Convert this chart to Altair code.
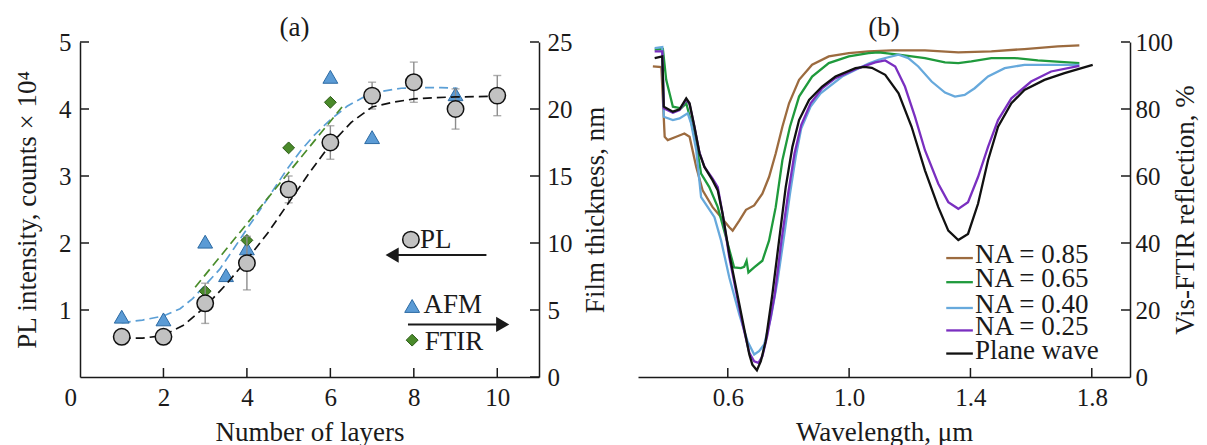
import altair as alt
import pandas as pd

FONT = "Liberation Serif"
INK = "#1a1a1a"
TICK_FS = 25
TEXT_FS = 27

# ---------------- panel (a) data ----------------
pl_layers = [1, 2, 3, 4, 5, 6, 7, 8, 9, 10]
pl_counts = [0.6, 0.6, 1.1, 1.7, 2.8, 3.5, 4.2, 4.4, 4.0, 4.2]
err_layers = [3, 4, 5, 6, 7, 8, 9, 10]
err_low = [0.8, 1.3, 2.6, 3.25, 4.0, 4.1, 3.7, 3.9]
err_high = [1.4, 2.1, 3.0, 3.75, 4.4, 4.7, 4.3, 4.5]

afm_layers = [1, 2, 3, 3.5, 4, 6, 7, 9]
afm_nm = [4.5, 4.3, 10.1, 7.6, 9.6, 22.4, 17.9, 21.1]
ftir_layers = [3, 4, 5, 6]
ftir_nm = [6.4, 10.2, 17.1, 20.5]

pl_fit_x = [1, 1.5, 2, 2.5, 3, 3.5, 4, 4.5, 5, 5.5, 6, 6.5, 7, 7.5, 8, 8.5, 9, 10]
pl_fit_y = [0.58, 0.58, 0.62, 0.78, 1.05, 1.38, 1.75, 2.15, 2.6, 3.05, 3.47, 3.8,
            4.03, 4.1, 4.15, 4.17, 4.18, 4.19]
afm_fit_x = [1.0, 1.5, 2.0, 2.4, 2.7, 3.0, 3.35, 3.68, 4.0, 4.32, 4.64, 4.96, 5.28,
             5.6, 6.0, 6.4, 6.8, 7.2, 7.7, 8.2, 8.65, 9.05]
afm_fit_nm = [4.05, 4.25, 4.55, 5.1, 5.85, 6.85, 8.05, 9.55, 11.05, 12.5, 14.0, 15.5,
              16.85, 18.0, 19.2, 20.2, 20.9, 21.3, 21.55, 21.6, 21.6, 21.55]
ftir_fit_x = [2.76, 6.28]
ftir_fit_nm = [6.7, 20.15]

# key / arrows drawn inside panel (a), in PL units
key_labels = ["PL", "AFM", "FTIR"]
key_marker_x = [7.93, 7.96, 7.96]
key_marker_y = [2.05, 1.06, 0.55]
key_text_x = [8.15, 8.23, 8.26]
key_text_y = [2.05, 1.07, 0.52]
arrow_y = [1.82, 0.785]
arrow_start = [9.74, 7.86]
arrow_head = [7.48, 10.13]
arrow_shape = ["triangle-left", "triangle-right"]

a_x_labels = [0, 2, 4, 6, 8, 10]
a_x_ticks = [2, 4, 6, 8, 10]
a_left_ticks = [1, 2, 3, 4, 5]
a_right_ticks = [0, 5, 10, 15, 20, 25]

# ---------------- panel (b) data ----------------
brown_x = [0.353, 0.381, 0.392, 0.402, 0.430, 0.457, 0.474, 0.496, 0.517, 0.550,
           0.578, 0.605, 0.616, 0.638, 0.660, 0.687, 0.714, 0.736, 0.758, 0.780,
           0.802, 0.835, 0.878, 0.933, 0.999, 1.064, 1.141, 1.25, 1.36, 1.469,
           1.578, 1.688, 1.759]
brown_y = [92.7, 92.5, 71.7, 70.7, 71.7, 72.7, 71.7, 62.7, 55.7, 50.7,
           47.7, 44.7, 43.7, 46.7, 49.9, 51.2, 54.7, 59.7, 66.7, 74.7,
           81.7, 88.7, 93.2, 95.7, 96.7, 97.2, 97.5, 97.5, 96.9, 97.2,
           97.9, 98.7, 99.0]
green_x = [0.359, 0.386, 0.397, 0.408, 0.419, 0.446, 0.463, 0.479, 0.496, 0.512,
           0.539, 0.567, 0.594, 0.621, 0.643, 0.654, 0.662, 0.668, 0.687, 0.714,
           0.736, 0.758, 0.780, 0.805, 0.835, 0.878, 0.933, 0.999, 1.064, 1.097,
           1.163, 1.25, 1.316, 1.36, 1.403, 1.469, 1.546, 1.622, 1.759]
green_y = [97.7, 97.9, 88.7, 84.7, 80.7, 80.2, 81.7, 76.2, 69.7, 60.7,
           56.7, 50.7, 41.7, 32.7, 32.5, 32.9, 34.7, 31.2, 32.7, 34.7,
           40.7, 50.7, 64.7, 74.7, 83.7, 89.7, 93.7, 95.7, 96.7, 96.9,
           96.2, 95.2, 93.9, 93.7, 94.2, 95.2, 95.2, 94.5, 93.7]
blue_x = [0.359, 0.384, 0.389, 0.419, 0.441, 0.468, 0.479, 0.496, 0.512, 0.534,
          0.556, 0.578, 0.605, 0.638, 0.665, 0.687, 0.703, 0.720, 0.742, 0.764,
          0.785, 0.805, 0.824, 0.842, 0.873, 0.906, 0.977, 1.064, 1.097, 1.163,
          1.195, 1.228, 1.272, 1.316, 1.349, 1.381, 1.414, 1.458, 1.513, 1.578,
          1.688, 1.759]
blue_y = [98.2, 98.5, 77.7, 76.7, 77.2, 78.7, 75.7, 67.7, 53.7, 50.7,
          47.7, 40.7, 29.7, 18.7, 10.7, 6.7, 7.7, 9.7, 17.7, 28.7,
          41.7, 54.7, 65.7, 74.2, 80.7, 84.7, 89.7, 93.6, 94.7, 96.2,
          95.2, 92.7, 88.2, 84.9, 83.7, 84.2, 86.2, 89.7, 92.2, 93.2,
          93.2, 93.2]
purple_x = [0.359, 0.384, 0.389, 0.419, 0.441, 0.463, 0.474, 0.490, 0.506, 0.523,
            0.550, 0.567, 0.583, 0.605, 0.627, 0.649, 0.671, 0.687, 0.701, 0.714,
            0.731, 0.755, 0.777, 0.799, 0.820, 0.842, 0.873, 0.911, 0.955, 1.021,
            1.086, 1.119, 1.152, 1.184, 1.217, 1.25, 1.294, 1.327, 1.36, 1.392,
            1.425, 1.458, 1.491, 1.535, 1.6, 1.666, 1.759]
purple_y = [97.2, 97.2, 80.2, 78.9, 79.7, 82.9, 81.4, 74.7, 67.2, 62.7,
            59.2, 56.7, 48.7, 35.7, 25.7, 15.7, 7.2, 4.7, 4.2, 6.2,
            12.7, 24.7, 40.7, 54.7, 66.7, 75.2, 81.7, 86.2, 89.2, 91.9,
            93.9, 94.5, 92.7, 86.7, 77.7, 67.7, 57.7, 52.2, 50.2, 52.2,
            59.7, 68.7, 76.7, 83.2, 88.2, 91.2, 92.9]
black_x = [0.359, 0.384, 0.389, 0.419, 0.441, 0.463, 0.474, 0.490, 0.507, 0.523,
           0.550, 0.567, 0.583, 0.605, 0.627, 0.649, 0.671, 0.681, 0.696, 0.709,
           0.725, 0.747, 0.769, 0.791, 0.813, 0.835, 0.868, 0.911, 0.955, 1.021,
           1.05, 1.075, 1.119, 1.163, 1.206, 1.25, 1.294, 1.327, 1.36, 1.392,
           1.425, 1.458, 1.491, 1.535, 1.578, 1.644, 1.71, 1.803]
black_y = [95.2, 95.7, 80.7, 79.2, 79.9, 83.2, 81.7, 74.7, 66.7, 62.7,
           58.7, 55.7, 48.7, 36.7, 26.7, 16.7, 6.7, 3.7, 2.0, 4.7,
           10.7, 24.7, 40.7, 56.7, 68.7, 76.7, 82.7, 86.7, 89.7, 92.2,
           92.6, 92.3, 90.2, 84.7, 74.7, 61.7, 50.7, 43.7, 40.9, 42.7,
           51.7, 64.7, 74.7, 81.7, 85.7, 88.7, 90.7, 93.2]

series_names = ["NA = 0.85", "NA = 0.65", "NA = 0.40", "NA = 0.25", "Plane wave"]
series_colors = ["#9c6b3f", "#1f9a3c", "#67a9dc", "#7a2fc0", "#111111"]
series_data = [(brown_x, brown_y), (green_x, green_y), (blue_x, blue_y),
               (purple_x, purple_y), (black_x, black_y)]

# legend of panel (b): one row per series, in data units of the panel
legend_row_y = [35.5, 28.3, 20.6, 13.9, 7.0]
legend_line_x0 = 1.3202
legend_line_x1 = 1.4079
legend_text_x = 1.415

b_x_ticks = [0.6, 1.0, 1.4, 1.8]
b_right_ticks = [20, 40, 60, 80, 100]

# ---------------- geometry ----------------
H = 335
WA = 459
WB = 492
TICK_LEN = 9

# ---------------- tables ----------------
pl_df = pd.DataFrame({"n": pl_layers, "v": pl_counts})
err_df = pd.DataFrame({"n": err_layers, "lo": err_low, "hi": err_high})
cap_df = pd.DataFrame({"n": err_layers + err_layers, "v": err_low + err_high})
plfit_df = pd.DataFrame({"n": pl_fit_x, "v": pl_fit_y})
afm_df = pd.DataFrame({"n": afm_layers, "t": afm_nm})
ftir_df = pd.DataFrame({"n": ftir_layers, "t": ftir_nm})
afmfit_df = pd.DataFrame({"n": afm_fit_x, "t": afm_fit_nm})
ftirfit_df = pd.DataFrame({"n": ftir_fit_x, "t": ftir_fit_nm})
key_df = pd.DataFrame({"label": key_labels, "mx": key_marker_x, "my": key_marker_y,
                       "tx": key_text_x, "ty": key_text_y})
arrow_df = pd.DataFrame({"y": arrow_y, "x0": arrow_start, "x1": arrow_head,
                         "shape": arrow_shape})
axt_df = pd.DataFrame({"n": a_x_ticks})
alt_df = pd.DataFrame({"v": a_left_ticks})
art_df = pd.DataFrame({"t": a_right_ticks})

rows = []
for name, (xs, ys) in zip(series_names, series_data):
    for i, (xv, yv) in enumerate(zip(xs, ys)):
        rows.append({"series": name, "wl": xv, "r": yv, "i": i})
spec_df = pd.DataFrame(rows)
leg_df = pd.DataFrame({"series": series_names, "r": legend_row_y,
                       "x0": [legend_line_x0] * 5, "x1": [legend_line_x1] * 5,
                       "tx": [legend_text_x] * 5})
bxt_df = pd.DataFrame({"wl": b_x_ticks})
brt_df = pd.DataFrame({"r": b_right_ticks})

# ---------------- axes ----------------
common_axis = dict(
    domainColor=INK, domainWidth=1.5, ticks=False, tickSize=0, grid=False,
    labelFont=FONT, labelFontSize=TICK_FS, labelColor=INK,
    titleFont=FONT, titleFontSize=TEXT_FS, titleFontWeight="normal", titleColor=INK,
)

xa_scale = alt.Scale(domain=[0, 11], nice=False, zero=False)
xa_axis = alt.Axis(values=a_x_labels, title="Number of layers", labelPadding=8,
                   titlePadding=9, format="d",
                   labelOffset={"condition": {"test": "datum.value === 0", "value": -16},
                                "value": 0},
                   **common_axis)
yl_scale = alt.Scale(domain=[0, 5], nice=False, zero=True)
yl_axis = alt.Axis(orient="left", values=a_left_ticks, title="PL intensity, counts × 10⁴",
                   labelPadding=9, titlePadding=17, **common_axis)
yr_scale = alt.Scale(domain=[0, 25], nice=False, zero=True)
yr_axis = alt.Axis(orient="right", values=a_right_ticks, title="Film thickness, nm",
                   labelPadding=8, titlePadding=10, titleAngle=270, titleBaseline="top",
                   **common_axis)


def XA(field):
    return alt.X(field, type="quantitative", scale=xa_scale, axis=xa_axis)


def YL(field):
    return alt.Y(field, type="quantitative", scale=yl_scale, axis=yl_axis)


def YR(field):
    return alt.Y(field, type="quantitative", scale=yr_scale, axis=yr_axis)


# ---- right-scale group (thickness) ----
afm_fit = alt.Chart(afmfit_df).mark_line(color="#5b9fd6", strokeWidth=1.7,
                                         strokeDash=[9, 5]).encode(x=XA("n"), y=YR("t"))
ftir_fit = alt.Chart(ftirfit_df).mark_line(color="#4a8c2a", strokeWidth=1.7,
                                           strokeDash=[9, 5]).encode(x=XA("n"), y=YR("t"))
afm_pts = alt.Chart(afm_df).mark_point(shape="triangle-up", filled=True, size=220,
                                       fill="#5b9bd5", stroke="#2c6aa3", strokeWidth=1,
                                       opacity=1).encode(x=XA("n"), y=YR("t"))
ftir_pts = alt.Chart(ftir_df).mark_point(shape="diamond", filled=True, size=140,
                                         fill="#4a8a2a", stroke="#2a5a15", strokeWidth=1,
                                         opacity=1).encode(x=XA("n"), y=YR("t"))
right_ticks = alt.Chart(art_df).mark_rule(color=INK, strokeWidth=1.5).encode(
    y=YR("t"), x=alt.value(WA), x2=alt.value(WA - TICK_LEN))
right_group = alt.layer(afm_fit, ftir_fit, afm_pts, ftir_pts, right_ticks)

# ---- left-scale group (PL) ----
err_rule = alt.Chart(err_df).mark_rule(color="#8c8c8c", strokeWidth=1.4).encode(
    x=XA("n"), y=YL("lo"), y2="hi")
err_cap = alt.Chart(cap_df).mark_tick(color="#8c8c8c", orient="horizontal", size=8,
                                      thickness=1.4).encode(x=XA("n"), y=YL("v"))
pl_fit = alt.Chart(plfit_df).mark_line(color="#111111", strokeWidth=1.7,
                                       strokeDash=[9, 5]).encode(x=XA("n"), y=YL("v"))
pl_pts = alt.Chart(pl_df).mark_point(shape="circle", filled=True, size=270,
                                     fill="#c2c2c2", stroke="#111111", strokeWidth=1.5,
                                     opacity=1).encode(x=XA("n"), y=YL("v"))

key_base = alt.Chart(key_df)
key_pl = key_base.transform_filter("datum.label == 'PL'").mark_point(
    shape="circle", filled=True, size=270, fill="#c2c2c2", stroke="#111111",
    strokeWidth=1.5, opacity=1).encode(x=XA("mx"), y=YL("my"))
key_afm = key_base.transform_filter("datum.label == 'AFM'").mark_point(
    shape="triangle-up", filled=True, size=220, fill="#5b9bd5", stroke="#2c6aa3",
    strokeWidth=1, opacity=1).encode(x=XA("mx"), y=YL("my"))
key_ftir = key_base.transform_filter("datum.label == 'FTIR'").mark_point(
    shape="diamond", filled=True, size=140, fill="#4a8a2a", stroke="#2a5a15",
    strokeWidth=1, opacity=1).encode(x=XA("mx"), y=YL("my"))
key_text = key_base.mark_text(font=FONT, fontSize=TEXT_FS, color=INK, align="left",
                              baseline="middle").encode(x=XA("tx"), y=YL("ty"),
                                                        text="label:N")
arrow_line = alt.Chart(arrow_df).mark_rule(color=INK, strokeWidth=2).encode(
    x=XA("x0"), x2="x1", y=YL("y"))
arrow_tip = alt.Chart(arrow_df).mark_point(filled=True, size=230, color=INK,
                                           opacity=1).encode(
    x=XA("x1"), y=YL("y"),
    shape=alt.Shape("shape:N", scale=alt.Scale(domain=arrow_shape, range=arrow_shape),
                    legend=None))
left_ticks = alt.Chart(alt_df).mark_rule(color=INK, strokeWidth=1.5).encode(
    y=YL("v"), x=alt.value(0), x2=alt.value(TICK_LEN))
bottom_ticks_a = alt.Chart(axt_df).mark_rule(color=INK, strokeWidth=1.5).encode(
    x=XA("n"), y=alt.value(H), y2=alt.value(H - TICK_LEN))
left_group = alt.layer(err_rule, err_cap, pl_fit, pl_pts, key_pl, key_afm, key_ftir,
                       key_text, arrow_line, arrow_tip, left_ticks, bottom_ticks_a)

panel_a = alt.layer(right_group, left_group).resolve_scale(y="independent").properties(
    width=WA, height=H,
    title=alt.TitleParams("(a)", font=FONT, fontSize=TEXT_FS, fontWeight="normal",
                          color=INK, dx=-15, offset=-12, anchor="middle", frame="group"))

# ---------------- panel (b) ----------------
xb_scale = alt.Scale(domain=[0.304, 1.926], nice=False, zero=False)
xb_axis = alt.Axis(values=b_x_ticks, format=".1f", title="Wavelength, μm",
                   labelPadding=8, titlePadding=9, **common_axis)
yb_scale = alt.Scale(domain=[0, 100], nice=False, zero=True)
yb_axis = alt.Axis(orient="right", values=[0] + b_right_ticks,
                   title="Vis-FTIR reflection, %", labelPadding=5, titlePadding=0,
                   titleAngle=270, titleBaseline="top", **common_axis)
color_scale = alt.Scale(domain=series_names, range=series_colors)


def XB(field):
    return alt.X(field, type="quantitative", scale=xb_scale, axis=xb_axis)


def YB(field):
    return alt.Y(field, type="quantitative", scale=yb_scale, axis=yb_axis)


spectra = alt.Chart(spec_df).mark_line(strokeWidth=2.3).encode(
    x=XB("wl"), y=YB("r"),
    color=alt.Color("series:N", scale=color_scale, legend=None),
    order="i:Q",
)
legend_lines = alt.Chart(leg_df).mark_rule(strokeWidth=2.3).encode(
    x=XB("x0"), x2="x1", y=YB("r"),
    color=alt.Color("series:N", scale=color_scale, legend=None))
legend_text = alt.Chart(leg_df).mark_text(font=FONT, fontSize=TEXT_FS, color=INK,
                                          align="left", baseline="middle", dy=-3).encode(
    x=XB("tx"), y=YB("r"), text="series:N")
b_right_tick_marks = alt.Chart(brt_df).mark_rule(color=INK, strokeWidth=1.5).encode(
    y=YB("r"), x=alt.value(WB), x2=alt.value(WB - TICK_LEN))
b_bottom_tick_marks = alt.Chart(bxt_df).mark_rule(color=INK, strokeWidth=1.5).encode(
    x=XB("wl"), y=alt.value(H), y2=alt.value(H - TICK_LEN))

panel_b = alt.layer(spectra, legend_lines, legend_text, b_right_tick_marks,
                    b_bottom_tick_marks).properties(
    width=WB, height=H,
    title=alt.TitleParams("(b)", font=FONT, fontSize=TEXT_FS, fontWeight="normal",
                          color=INK, offset=-12, anchor="middle", frame="group"))

chart = alt.hconcat(panel_a, panel_b, spacing=30).properties(
    padding={"left": 5, "top": 6, "right": 0, "bottom": 0},
    background="white",
).configure_view(stroke=None)

chart.save("out.html", embed_options={"renderer": "svg", "actions": False})
